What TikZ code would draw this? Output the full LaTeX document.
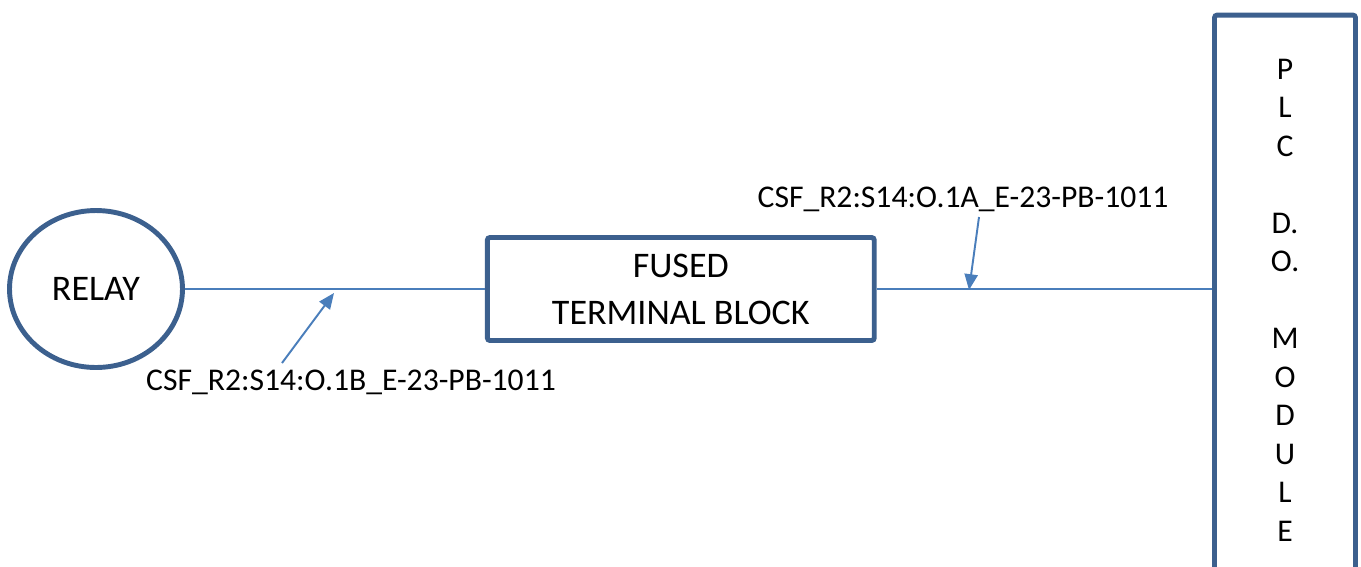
\documentclass[tikz,border=0pt]{standalone}
\usepackage{fontspec}
\setmainfont{Carlito}
\usepackage{xcolor}
\usepackage{tikz}
\usetikzlibrary{shapes.geometric, arrows.meta, positioning}
\definecolor{edgeblue}{RGB}{60,96,142}
\definecolor{wireblue}{RGB}{74,126,187}
\tikzset{
  relaybox/.style = {ellipse, draw=edgeblue, line width=2.8pt, inner sep=0pt,
                     minimum width=3.46cm, minimum height=3.14cm,
                     font=\fontsize{20.5}{26.7}\selectfont},
  tbblock/.style  = {rectangle, draw=edgeblue, line width=2.8pt, rounded corners=1.5pt,
                     minimum width=7.74cm, minimum height=2.06cm, align=center,
                     font=\fontsize{20.5}{26.7}\selectfont},
  plcbox/.style   = {rectangle, draw=edgeblue, line width=2.8pt, rounded corners=1.5pt,
                     minimum width=2.82cm, minimum height=11.4cm, align=center,
                     font=\fontsize{18}{21.9}\selectfont},
  tag/.style      = {inner sep=0pt, font=\fontsize{18}{21.9}\selectfont},
  wire/.style     = {draw=wireblue, line width=1.1pt},
  leader/.style   = {-{Triangle[length=9pt, width=7.5pt]}, draw=wireblue,
                     fill=wireblue, line width=1.1pt},
}

\begin{document}
\begin{tikzpicture}[x=0.02cm, y=-0.02cm]
  \useasboundingbox (0,0) rectangle (1361,566);
  \clip (0,0) rectangle (1361,566);
  \node[relaybox] (relay) at (96,289) {RELAY};
  \node[tbblock, right=6cm of relay] (blk) {FUSED\\TERMINAL BLOCK};
  \node[plcbox] (plc) at (1285,300)
        {P\\L\\C\\[21.9pt]D.\\O.\\[21.9pt]M\\O\\D\\U\\L\\E};
  % wire tags
  \node[tag] (tagA) at (963,199) {CSF\_R2:S14:O.1A\_E-23-PB-1011};
  \node[tag] (tagB) at (351,382) {CSF\_R2:S14:O.1B\_E-23-PB-1011};
  \coordinate (tailA) at (979,217);
  \coordinate (tipA)  at (969,290);
  \coordinate (tailB) at (282,363);
  \coordinate (tipB)  at (334,293);
  \draw[wire] (relay.east) -- (blk.west);
  \draw[wire] (blk.east) -- (blk.east -| plc.west);
  \foreach \a/\b in {tailA/tipA, tailB/tipB}
    \draw[leader] (\a) -- (\b);
\end{tikzpicture}
\end{document}
